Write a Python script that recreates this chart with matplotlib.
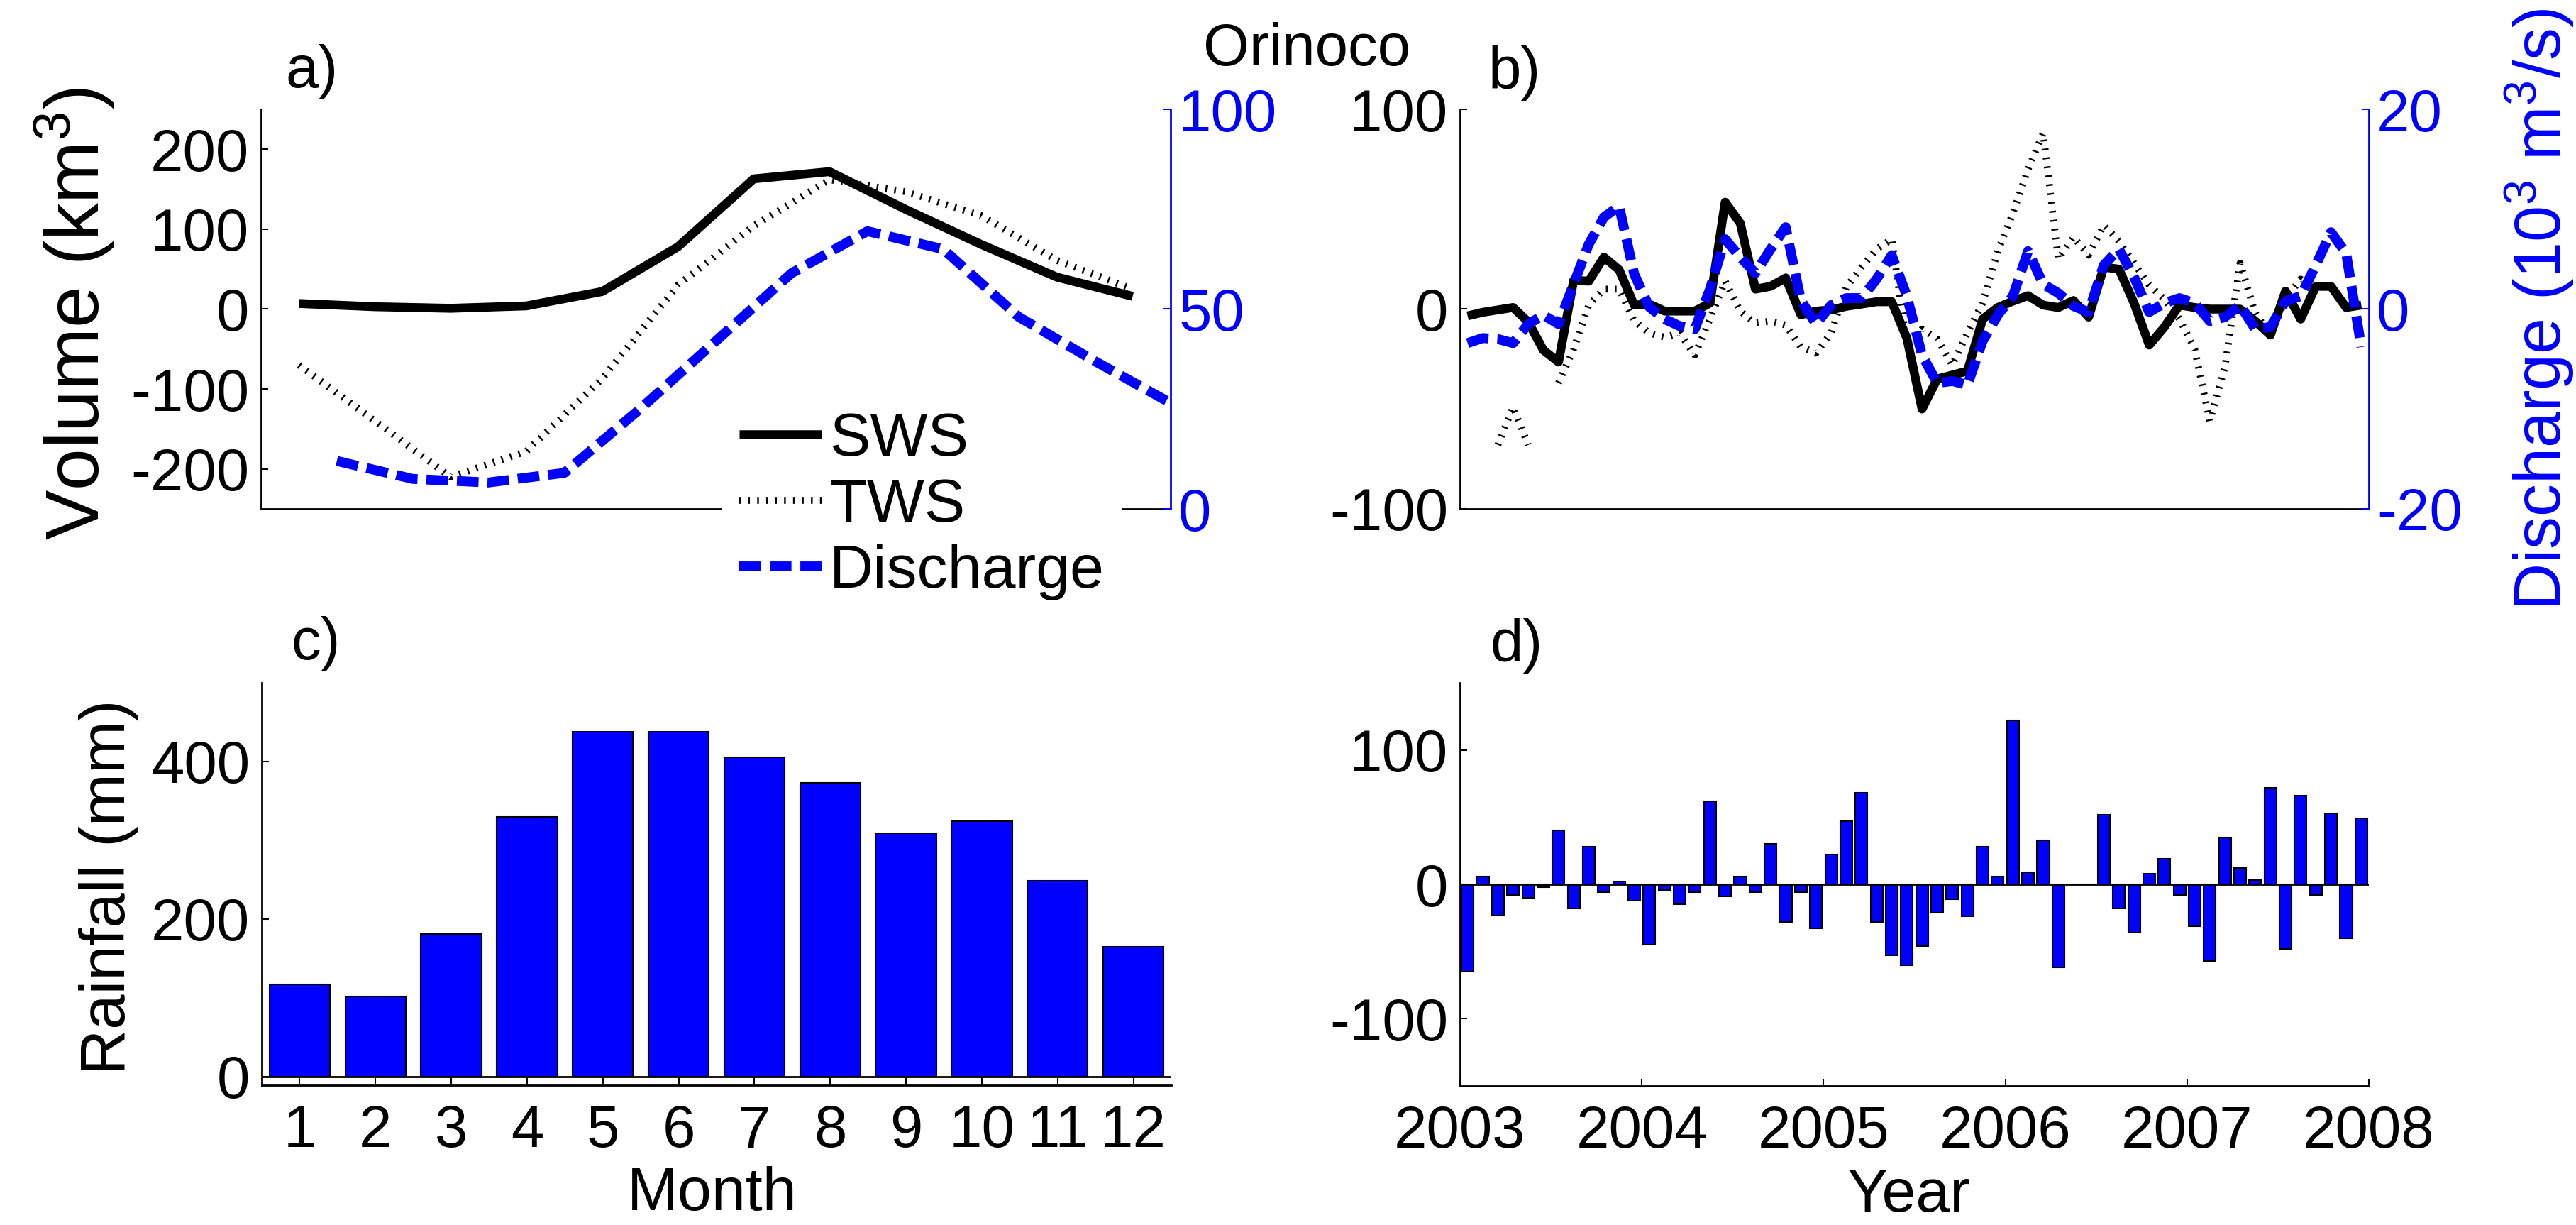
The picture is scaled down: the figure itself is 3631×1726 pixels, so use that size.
"""Orinoco: seasonal cycle and anomalies of surface/total water storage, discharge and rainfall."""
import matplotlib

matplotlib.use("Agg")

import matplotlib.pyplot as plt
import numpy as np

plt.rcParams["font.family"] = ["Liberation Sans", "DejaVu Sans"]
plt.rcParams["mathtext.default"] = "regular"
plt.rcParams["axes.unicode_minus"] = False

W, H = 3631, 1726
BLUE = (0, 0, 1)

# ---- seasonal cycle (panels a, c) ----
months = [1, 2, 3, 4, 5, 6, 7, 8, 9, 10, 11, 12]
sws_clim = [7, 3, 1, 4, 22, 78, 163, 172, 125, 81, 40, 16]
tws_clim = [-70, -140, -210, -178, -87, 30, 104, 162, 147, 117, 61, 25]
discharge_months = [1.5, 2.5, 3.5, 4.5, 5.5, 6.5, 7.5, 8.5, 9.5, 10.5, 11.5, 12.5]
discharge_clim = [12, 7.5, 6.6, 9, 25, 42, 59, 69.5, 65, 48, 37, 26.5]
rain_clim = [117, 102, 181, 330, 438, 438, 405, 373, 309, 324, 249, 165]

# ---- monthly anomalies 2003-2007 (panels b, d) ----
sws_anom = [
    -3.4, -1.6, -0.4, 0.8, -6.4, -20.5, -26.5, 14.4, 14, 26, 19.7, 2,
    2.5, -1, -1, -1, 3, 53.5, 43, 10, 11.4, 15.6, -2.8, -1,
    -0.4, 1.4, 2.5, 3.7, 3.7, -14.6, -50, -35, -33, -31, -5, 0.8,
    4, 6.7, 2, 0.8, 4.3, -4, 21, 20, 3, -18, -9, 2,
    0.8, 0, 0, 0, -6, -13, 9, -5, 11.4, 11.4, 0.8, 2,
]
tws_anom = [
    np.nan, np.nan, -68, -49, -68, np.nan, -37, -20, 2, 10, 10, -6,
    -12, -14, -12, -23, -5, 14, -1, -7, -6, -8, -19, -22,
    -12, 11, 21, 30, 35, -18, -10, -15, -28, -12, 3, 29,
    48, 70, 88, 25, 36, 27, 42, 34, 23, 12, 5, -5,
    -20, -56, -29, 23, -2, -13, 5, 15, 10, 12, 2, np.nan,
]
discharge_anom = [
    -3.4, -2.9, -3.0, -3.4, -1.5, -0.6, -1.5, 2.5, 6.5, 9.2, 10.3, 3.5,
    0.2, -1.0, -1.7, -2.0, 2.0, 7.0, 5.2, 3.6, 6.0, 8.2, 0.9, -1.5,
    0.4, 1.1, 1.1, 3.0, 5.4, 1.3, -4.6, -7.4, -7.2, -7.6, -3.2, -0.6,
    1.3, 5.8, 2.5, 1.6, 0.3, -0.3, 4.4, 6.0, 3.2, -0.3, 0.6, 1.1,
    0.6, -1.2, -0.8, 0.4, -2.0, -1.8, 0.8, 1.3, 4.4, 7.7, 5.6, -3.8,
]
rain_anom = [
    -65, 6, -23, -8, -10, -2, 40, -18, 28, -6, 2, -12,
    -45, -4, -15, -6, 62, -9, 6, -6, 30, -28, -6, -33,
    22, 47, 68, -28, -53, -60, -46, -21, -11, -24, 28, 6,
    122, 9, 33, -62, 0, 0, 52, -18, -36, 8, 19, -8,
    -31, -57, 35, 12, 3, 72, -48, 66, -8, 53, -40, 49,
]
start_year = 2003
n_months = len(sws_anom)
year_ticks = [2003, 2004, 2005, 2006, 2007, 2008]

# mid-month positions in decimal years
t = start_year + (np.arange(n_months) + 0.5) / 12

TICK_FS = 60
SWS_STYLE = dict(color="k", lw=9, solid_joinstyle="round", solid_capstyle="butt")
# MATLAB's dotted line at this resolution looks like short bars across the line
TWS_STYLE = dict(color="k", lw=7, linestyle=(0, (0.25, 1.05)), dash_capstyle="butt")
Q_STYLE = dict(color=BLUE, lw=10, linestyle=(0, (2.2, 0.9)), dash_capstyle="butt")


def px_box(left, top, right, bottom):
    return [left / W, 1 - bottom / H, (right - left) / W, (bottom - top) / H]


def style_left(ax, pad=12):
    for side in ("top", "right"):
        ax.spines[side].set_visible(False)
    for side in ("left", "bottom"):
        ax.spines[side].set_linewidth(2)
    ax.tick_params(direction="in", length=7, width=1.5, labelsize=TICK_FS, pad=pad)


def style_right(ax):
    for side in ("top", "left", "bottom"):
        ax.spines[side].set_visible(False)
    ax.spines["right"].set_color(BLUE)
    ax.spines["right"].set_linewidth(2)
    ax.tick_params(axis="y", direction="in", length=7, width=1.5,
                   labelsize=TICK_FS, pad=8, colors=BLUE)


fig = plt.figure(figsize=(W / 100, H / 100), dpi=100)

# a) seasonal storage and discharge
ax_a = fig.add_axes(px_box(368, 154, 1650, 717))
h_sws, = ax_a.plot(months, sws_clim, label="SWS", **SWS_STYLE)
h_tws, = ax_a.plot(months, tws_clim, label="TWS", **TWS_STYLE)
ax_a.set_xlim(0.5, 12.5)
ax_a.set_ylim(-250, 250)
ax_a.set_yticks([-200, -100, 0, 100, 200])
ax_a.set_xticks([])
style_left(ax_a)
ax_a2 = ax_a.twinx()
h_q, = ax_a2.plot(discharge_months, discharge_clim, label="Discharge", **Q_STYLE)
ax_a2.set_ylim(0, 100)
ax_a2.set_yticks([0, 50, 100])
style_right(ax_a2)

# b) anomalies
ax_b = fig.add_axes(px_box(2058, 154, 3339, 717))
ax_b.plot(t, sws_anom, **SWS_STYLE)
ax_b.plot(t, tws_anom, **TWS_STYLE)
ax_b.set_xlim(2003, 2008)
ax_b.set_ylim(-100, 100)
ax_b.set_yticks([-100, 0, 100])
ax_b.set_xticks([])
style_left(ax_b)
ax_b2 = ax_b.twinx()
ax_b2.plot(t, discharge_anom, **Q_STYLE)
ax_b2.set_ylim(-20, 20)
ax_b2.set_yticks([-20, 0, 20])
style_right(ax_b2)

# c) rainfall climatology
ax_c = fig.add_axes(px_box(369, 962, 1651, 1529))
ax_c.bar(months, rain_clim, width=0.8, color=BLUE, edgecolor="k", linewidth=1.5)
ax_c.axhline(0, color="k", lw=2)
ax_c.set_xlim(0.5, 12.5)
ax_c.set_ylim(-11, 500)
ax_c.set_yticks([0, 200, 400])
ax_c.set_xticks(months)
style_left(ax_c)
ax_c.tick_params(axis="x", pad=19)

# d) rainfall anomalies
ax_d = fig.add_axes(px_box(2058, 962, 3339, 1530))
ax_d.bar(t, rain_anom, width=0.8 / 12, color=BLUE, edgecolor="k", linewidth=1.5)
ax_d.axhline(0, color="k", lw=2)
ax_d.set_xlim(2003, 2008)
ax_d.set_ylim(-150, 150)
ax_d.set_yticks([-100, 0, 100])
ax_d.set_xticks(year_ticks)
style_left(ax_d)
ax_d.tick_params(axis="x", pad=19)

# labels
fig.text(140 / W, 1 - 442 / H, "Volume (km$^3$)", rotation=90, rotation_mode="anchor",
         ha="center", va="baseline", fontsize=76)
fig.text(176 / W, 1 - 1250 / H, "Rainfall (mm)", rotation=90, rotation_mode="anchor",
         ha="center", va="baseline", fontsize=64)
fig.text(3610 / W, 1 - 436 / H, "Discharge (10$^3$ m$^3$/s)", rotation=90,
         rotation_mode="anchor", ha="center", va="baseline", fontsize=66, color=BLUE)
fig.text(1004 / W, 1 - 1705 / H, "Month", ha="center", va="baseline", fontsize=62)
fig.text(2690 / W, 1 - 1707 / H, "Year", ha="center", va="baseline", fontsize=62)
fig.text(1842 / W, 1 - 92 / H, "Orinoco", ha="center", va="baseline", fontsize=60)
for lab, x, y in [("a)", 402, 123), ("b)", 2098, 125), ("c)", 411, 929), ("d)", 2101, 932)]:
    fig.text(x / W, 1 - y / H, lab, ha="left", va="baseline", fontsize=60)

fig.legend([h_sws, h_tws, h_q], ["SWS", "TWS", "Discharge"], loc="upper left",
           bbox_to_anchor=(1018 / W, 1 - 556 / H), bbox_transform=fig.transFigure,
           frameon=True, facecolor="white", edgecolor="none", framealpha=1,
           fancybox=False, fontsize=62, handlelength=1.34, handletextpad=0.13,
           borderpad=0.28, labelspacing=0.15, borderaxespad=0)

fig.savefig("out.png", dpi=100)
